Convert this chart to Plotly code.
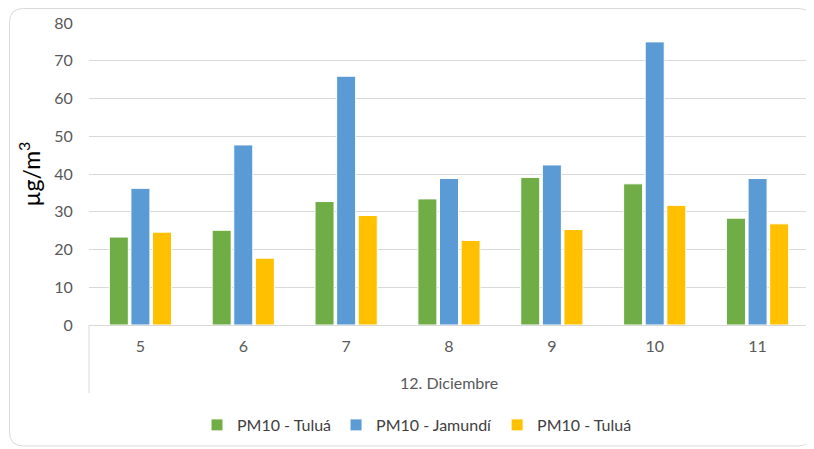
import plotly.graph_objects as go

days = ["5", "6", "7", "8", "9", "10", "11"]
group_label = "12. Diciembre"
series_names = ["PM10 - Tuluá", "PM10 - Jamundí", "PM10 - Tuluá"]
tulua_1 = [23.3, 25.1, 32.7, 33.4, 39.1, 37.4, 28.3]
jamundi = [36.2, 47.7, 65.9, 38.8, 42.4, 75.0, 38.8]
tulua_2 = [24.6, 17.7, 29.0, 22.4, 25.3, 31.7, 26.8]
colors = ["#70AD47", "#5B9BD5", "#FFC000"]
y_ticks = [0, 10, 20, 30, 40, 50, 60, 70, 80]

OFF = 8  # page body margin
W, H = 814 - OFF, 449 - OFF
# plot area in screen pixels
SX0, SX1, SY0, SY1 = 89, 809, 23, 325
L, R, T, B = SX0 - OFF, W - (SX1 - OFF), SY0 - OFF, H - (SY1 - OFF)
pw, ph = W - L - R, H - T - B

def px(x):
    return (x - SX0) / pw

def py(y):
    return (SY1 - y) / ph

fig = go.Figure()
for name, vals, c in zip(series_names, [tulua_1, jamundi, tulua_2], colors):
    fig.add_trace(go.Bar(
        x=days, y=vals, name=name,
        marker=dict(color=c, line=dict(color="white", width=1)),
    ))

# rounded outer border
x0, x1, y0, y1 = px(9.5), px(812), py(446), py(8.5)
rx, ry = 14 / pw, 14 / ph
path = (f"M {x0+rx},{y1} L {x1-rx},{y1} Q {x1},{y1} {x1},{y1-ry} "
        f"L {x1},{y0+ry} Q {x1},{y0} {x1-rx},{y0} L {x0+rx},{y0} "
        f"Q {x0},{y0} {x0},{y0+ry} L {x0},{y1-ry} Q {x0},{y1} {x0+rx},{y1} Z")

grid = "#D9D9D9"
shapes = [
    dict(type="path", xref="paper", yref="paper", path=path,
         line=dict(color=grid, width=1), layer="below"),
    dict(type="line", xref="paper", yref="paper", x0=0, x1=0, y0=0, y1=py(393),
         line=dict(color=grid, width=1)),
    dict(type="line", xref="paper", yref="paper", x0=1, x1=1, y0=0, y1=py(393),
         line=dict(color=grid, width=1)),
]

fig.update_layout(
    width=W, height=H,
    margin=dict(l=L, r=R, t=T, b=B, autoexpand=False),
    paper_bgcolor="white", plot_bgcolor="white",
    font=dict(family="Lato, Open Sans, sans-serif", size=16, color="#595959"),
    barmode="group", bargap=0.37, bargroupgap=0.12,
    showlegend=True,
    legend=dict(orientation="h", x=px(417), xanchor="center", y=py(425), yanchor="middle",
                font=dict(size=16, color="#404040"), itemwidth=30,
                traceorder="normal"),
    xaxis=dict(type="category", showline=True, linecolor=grid, linewidth=1,
               showgrid=False, ticks="outside", ticklen=7, tickcolor="rgba(0,0,0,0)",
               tickfont=dict(size=16, color="#595959"), automargin=False),
    yaxis=dict(range=[0, 80], tickvals=y_ticks, showgrid=True, gridcolor=grid,
               gridwidth=1, zeroline=False, showline=False, ticks="outside",
               ticklen=12, tickcolor="rgba(0,0,0,0)", automargin=False,
               tickfont=dict(size=16, color="#595959"),
               title=dict(text="µg/m<sup>3</sup>", font=dict(size=23, color="#000000"),
                          standoff=7)),
    shapes=shapes,
    annotations=[dict(text=group_label, xref="paper", yref="paper", x=0.5, y=py(382),
                      xanchor="center", yanchor="middle", showarrow=False,
                      font=dict(size=16, color="#595959"))],
)

fig.write_html("out.html")
